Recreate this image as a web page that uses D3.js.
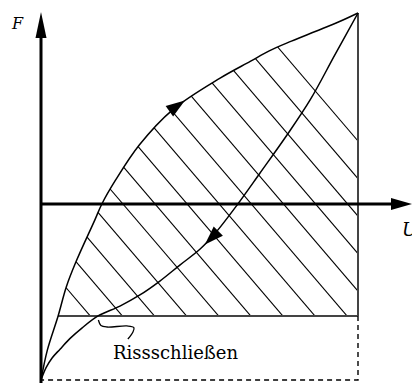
<!DOCTYPE html>
<html><head><meta charset="utf-8">
<script src="https://cdn.jsdelivr.net/npm/d3@7"></script>
<style>html,body{margin:0;padding:0;background:#fff;} svg{display:block;} text{font-family:"DejaVu Serif","Liberation Serif",serif;}</style>
</head><body>
<svg id="chart" width="412" height="383"></svg>
<script>
// Hysteresis loop: force F over displacement U (both in % of their extreme values)
// Loading branch (upper curve)
const upperU = [0, 2, 5.4, 8, 11, 17, 19.2, 23.5, 31, 41.5, 56.5, 66, 72, 79, 86.5, 94, 100];
const upperF = [-100, -83, -63.6, -47, -33, -9, 0, 13.5, 33.5, 53.5, 71.5, 81, 87, 92.5, 98, 103.5, 108.5];
// Unloading branch (lower curve)
const lowerU = [0, 1.6, 3.5, 6, 9.1, 12.9, 18, 24.9, 31.2, 37.5, 43.8, 50.2, 55, 62.1, 69.1, 77.6, 84.9, 92.7, 100];
const lowerF = [-100, -93, -87.5, -82.5, -76.5, -70.5, -63.6, -58, -51.7, -43.8, -34.7, -25.6, -16.5, 0, 17.6, 39.2, 59.1, 84.7, 108.5];
// Force level at which the crack closes, and the displacement range
const crackCloseF = -63.6;
const uMax = 100;
const fMin = -100;
// Leader line from the crack-closing point to its label
const noteU = [18.1, 18.9, 20.8, 27.1, 29.3, 29.0, 27.4];
const noteF = [-65.9, -69.0, -69.9, -69.3, -70.2, -72.7, -76.7];
const axisLabels = ["F", "U"];
const noteLabel = "Rissschließen";
const noteAt = [22.7, -88.1];

const svg = d3.select("#chart");
const x = d3.scaleLinear().domain([0, 100]).range([41, 358]);
const y = d3.scaleLinear().domain([-100, 108.5]).range([380, 13]);

const upper = upperU.map((u, i) => [u, upperF[i]]);
const lower = lowerU.map((u, i) => [u, lowerF[i]]);
const line = d3.line().x(d => x(d[0])).y(d => y(d[1])).curve(d3.curveCatmullRom.alpha(0.5));

// Clip regions for the hatched work area
const defs = svg.append("defs");
defs.append("clipPath").attr("id", "clipRect")
  .append("rect")
  .attr("x", x(0)).attr("y", 0)
  .attr("width", x(uMax) - x(0)).attr("height", y(crackCloseF));
defs.append("clipPath").attr("id", "clipCurve")
  .append("path")
  .attr("d", line(upper) + `L${x(uMax)},${y(fMin)}Z`);

const hatchOuter = svg.append("g").attr("clip-path", "url(#clipRect)");
const hatch = hatchOuter.append("g").attr("clip-path", "url(#clipCurve)");
const slope = 1.17, step = 32.1;
const x0 = x(upperU[2]), yh = y(crackCloseF);
for (let k = -14; k <= 14; k++) {
  const xb = x0 + k * step;
  hatch.append("line")
    .attr("x1", xb - yh / slope).attr("y1", 0)
    .attr("x2", xb + (383 - yh) / slope).attr("y2", 383)
    .attr("stroke", "#000").attr("stroke-width", 1.1);
}

// Crack-closing level and right boundary
svg.append("line")
  .attr("x1", x(upperU[2])).attr("y1", y(crackCloseF))
  .attr("x2", x(uMax)).attr("y2", y(crackCloseF))
  .attr("stroke", "#444").attr("stroke-width", 2);
svg.append("line")
  .attr("x1", x(uMax)).attr("y1", y(upperF[upperF.length - 1]))
  .attr("x2", x(uMax)).attr("y2", y(crackCloseF))
  .attr("stroke", "#444").attr("stroke-width", 2);
// Dashed completion down to the minimum force
svg.append("path")
  .attr("d", `M${x(uMax)},${y(crackCloseF)}V${y(fMin)}H${x(0)}`)
  .attr("fill", "none").attr("stroke", "#000").attr("stroke-width", 1.4)
  .attr("stroke-dasharray", "5,4");

// Curves
const upPath = svg.append("path").attr("d", line(upper))
  .attr("fill", "none").attr("stroke", "#000").attr("stroke-width", 1.5);
const loPath = svg.append("path").attr("d", line(lower))
  .attr("fill", "none").attr("stroke", "#000").attr("stroke-width", 1.5);

// Direction arrows along the curves
function pointAtX(node, px) {
  let lo = 0, hi = node.getTotalLength();
  for (let i = 0; i < 40; i++) {
    const mid = (lo + hi) / 2;
    if (node.getPointAtLength(mid).x < px) lo = mid; else hi = mid;
  }
  return lo;
}
function arrowOn(node, u, forward) {
  const len = pointAtX(node, x(u));
  const p = node.getPointAtLength(len);
  const a = node.getPointAtLength(len - 2), b = node.getPointAtLength(len + 2);
  let dx = b.x - a.x, dy = b.y - a.y;
  const n = Math.hypot(dx, dy); dx /= n; dy /= n;
  if (!forward) { dx = -dx; dy = -dy; }
  const L = 19, W = 6.5;
  const bx = p.x - dx * L, by = p.y - dy * L;
  svg.append("path")
    .attr("d", `M${p.x},${p.y}L${bx - dy * W},${by + dx * W}L${bx + dy * W},${by - dx * W}Z`)
    .attr("fill", "#000");
}
arrowOn(upPath.node(), 45.4, true);
arrowOn(loPath.node(), 51.7, false);

// Axes with arrow heads
const ax = x(0), ay = y(0);
svg.append("line").attr("x1", ax).attr("y1", 383).attr("x2", ax).attr("y2", 30)
  .attr("stroke", "#000").attr("stroke-width", 3);
svg.append("path").attr("d", `M${ax},12L${ax - 5.5},38L${ax + 5.5},38Z`).attr("fill", "#000");
svg.append("line").attr("x1", ax).attr("y1", ay).attr("x2", 396).attr("y2", ay)
  .attr("stroke", "#000").attr("stroke-width", 3);
svg.append("path").attr("d", `M412,${ay}L391,${ay - 6}L391,${ay + 6}Z`).attr("fill", "#000");

svg.append("text").attr("x", ax - 29).attr("y", 29)
  .style("font-style", "italic").style("font-size", "16px")
  .text(axisLabels[0]);
svg.append("text").attr("x", 402).attr("y", ay + 32)
  .style("font-style", "italic").style("font-size", "18px")
  .text(axisLabels[1]);

// Annotation
const note = noteU.map((u, i) => [u, noteF[i]]);
svg.append("path")
  .attr("d", d3.line().x(d => x(d[0])).y(d => y(d[1])).curve(d3.curveCatmullRom)(note))
  .attr("fill", "none").attr("stroke", "#000").attr("stroke-width", 1.3);
svg.append("text").attr("x", x(noteAt[0])).attr("y", y(noteAt[1]))
  .style("font-size", "18px")
  .text(noteLabel);
</script>
</body></html>
